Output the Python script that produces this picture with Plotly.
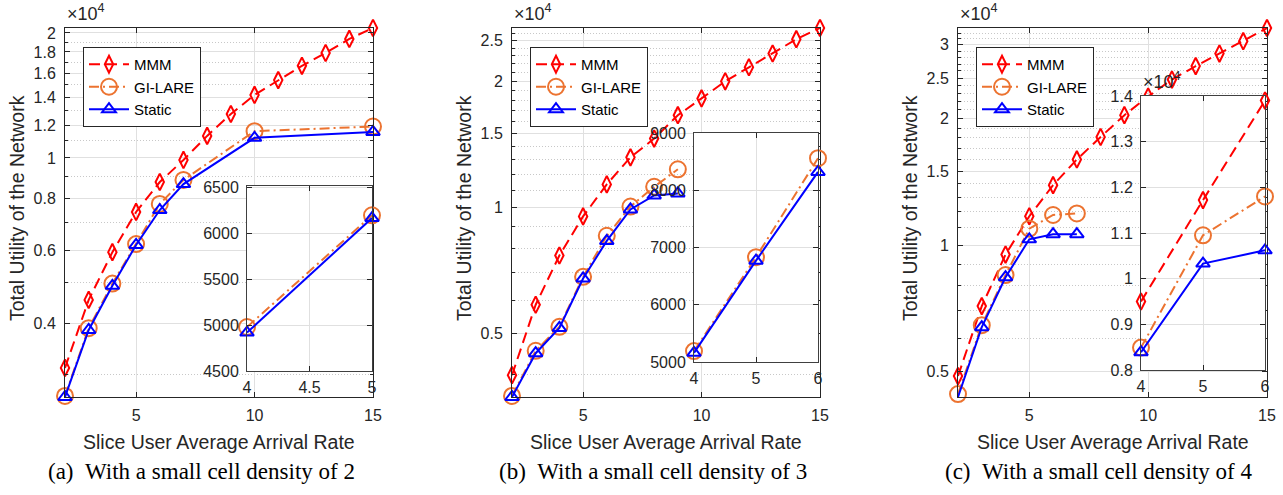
import math
import plotly.graph_objects as go

# ---------------- data ----------------
x_mmm = [2, 3, 4, 5, 6, 7, 8, 9, 10, 11, 12, 13, 14, 15]

# (a) small cell density 2
xa_pts = [2, 3, 4, 5, 6, 7, 10, 15]
a_mmm = [3120, 4550, 5930, 7410, 8750, 9890, 11300, 12760, 14180, 15400, 16670, 17900, 19350, 20560]
a_gi = [2670, 3890, 4980, 6200, 7750, 8850, 11600, 11900]
a_st = [2655, 3850, 4920, 6170, 7490, 8650, 11180, 11550]

# (b) small cell density 3
xb_pts = [2, 3, 4, 5, 6, 7, 8, 9]
b_mmm = [3980, 5860, 7680, 9520, 11350, 13170, 14600, 16600, 18200, 20000, 21600, 23300, 25200, 26800]
b_gi = [3550, 4550, 5190, 6830, 8560, 10050, 11200, 12330]
b_st = [3530, 4490, 5160, 6770, 8320, 9890, 10680, 10800]

# (c) small cell density 4
xc_pts = [2, 3, 4, 5, 6, 7]
c_mmm = [4880, 7160, 9500, 11720, 13900, 16000, 18100, 20400, 22600, 24800, 26700, 28600, 30600, 32900]
c_gi = [4420, 6450, 8490, 10950, 11800, 11900]
c_st = [4350, 6380, 8390, 10330, 10620, 10620]

series_names = ["MMM", "GI-LARE", "Static"]
captions = ["(a)\u00a0\u00a0With a small cell density of 2",
            "(b)\u00a0\u00a0With a small cell density of 3",
            "(c)\u00a0\u00a0With a small cell density of 4"]

# main y tick labels (x10^4)
a_yticks = [0.4, 0.6, 0.8, 1, 1.2, 1.4, 1.6, 1.8, 2]
b_yticks = [0.5, 1, 1.5, 2, 2.5]
c_yticks = [0.5, 1, 1.5, 2, 2.5, 3]
minor_steps = [0.3, 0.4, 0.5, 0.6, 0.7, 0.8, 0.9, 1.0, 1.1, 1.2, 1.3, 1.4, 1.5, 1.6,
               1.7, 1.8, 1.9, 2.0, 2.1, 2.2, 2.3, 2.4, 2.5, 2.6, 2.7, 2.8, 2.9, 3.0, 3.1, 3.2]
main_xticks = [5, 10, 15]

# insets
ins_a_x = [4, 4.5, 5]
ins_a_y = [4500, 5000, 5500, 6000, 6500]
ins_b_x = [4, 5, 6]
ins_b_y = [5000, 6000, 7000, 8000, 9000]
ins_c_x = [4, 5, 6]
ins_c_y = [8000, 9000, 10000, 11000, 12000, 13000, 14000]

# ---------------- style ----------------
W, H = 1283, 495
AX = "#262626"
GRID = "#e0e0e0"
MGRID = "#c8c8c8"
RED = "#ff0000"
ORANGE = "#EC7330"
BLUE = "#0000ff"
SANS = "Liberation Sans, Arial, sans-serif"
SERIF = "Liberation Serif, Times New Roman, serif"

styles = {
    "MMM": dict(color=RED, dash="11px,6px", symbol="diamond-tall-open", size=12),
    "GI-LARE": dict(color=ORANGE, dash="10px,4px,2px,4px", symbol="circle-open", size=16),
    "Static": dict(color=BLUE, dash="solid", symbol="triangle-up-open", size=12),
}


def px_x(a, b):
    return [a / W, b / W]


def px_y(top, bottom):
    return [1 - bottom / H, 1 - top / H]


fig = go.Figure()


def add_trace(x, y, name, xref, yref, legend, showlegend):
    s = styles[name]
    fig.add_trace(go.Scatter(
        x=x, y=y, name=name, mode="lines+markers",
        xaxis=xref, yaxis=yref, legend=legend, showlegend=showlegend,
        cliponaxis=False,
        line=dict(color=s["color"], width=2, dash=s["dash"]),
        marker=dict(symbol=s["symbol"], size=s["size"], color=s["color"],
                    line=dict(color=s["color"], width=2)),
    ))


def within(x, y, lo, hi):
    xs = [a for a in x if lo <= a <= hi]
    ys = [b for a, b in zip(x, y) if lo <= a <= hi]
    return xs, ys


panels = [
    (xa_pts, a_mmm, a_gi, a_st, a_yticks),
    (xb_pts, b_mmm, b_gi, b_st, b_yticks),
    (xc_pts, c_mmm, c_gi, c_st, c_yticks),
]
main_px = [(65, 373), (512, 820), (958, 1267)]
inset_px = [((247, 372), (186, 371)), ((694, 818), (133, 362)), ((1141, 1265), (96, 370))]
inset_ticks = [(ins_a_x, ins_a_y), (ins_b_x, ins_b_y), (ins_c_x, ins_c_y)]
inset_yr = [[4500, 6520], [5000, 9000], [8000, 14000]]
inset_series = [["GI-LARE", "Static"], ["GI-LARE", "Static"], ["MMM", "GI-LARE", "Static"]]
legend_ids = ["legend", "legend2", "legend3"]

layout = dict(
    width=W, height=H, margin=dict(l=0, r=0, t=0, b=0, pad=0, autoexpand=False),
    paper_bgcolor="white", plot_bgcolor="white",
    font=dict(family=SANS, size=16, color=AX),
    annotations=[],
)

tickfont = dict(family=SANS, size=16, color=AX)

for i, (xp, mmm, gi, st, yt) in enumerate(panels):
    n = i + 1
    sfx = "" if n == 1 else str(n)
    xref, yref = "x" + sfx, "y" + sfx
    leg = legend_ids[i]
    data = {"MMM": (x_mmm, mmm), "GI-LARE": (xp, gi), "Static": (xp, st)}
    for nm in series_names:
        add_trace(data[nm][0], data[nm][1], nm, xref, yref, leg, True)

    allv = mmm + gi + st
    lo, hi = min(allv), max(allv)
    (x0, x1) = main_px[i]
    layout["xaxis" + sfx] = dict(
        domain=px_x(x0, x1), anchor=yref, range=[2, 15],
        tickmode="array", tickvals=main_xticks, ticks="inside", ticklen=5,
        tickcolor=AX, showline=True, linecolor=AX, linewidth=1, mirror="ticks",
        showgrid=True, gridcolor=GRID, gridwidth=1, zeroline=False,
        tickfont=tickfont, ticklabelstandoff=4, automargin=False,
    )
    minor_vals = [m * 1e4 for m in minor_steps if m not in yt and lo <= m * 1e4 <= hi]
    layout["yaxis" + sfx] = dict(
        domain=px_y(28, 397), anchor=xref, type="log",
        range=[math.log10(lo), math.log10(hi)],
        tickmode="array", tickvals=[v * 1e4 for v in yt], ticktext=[f"{v:g}" for v in yt],
        ticks="inside", ticklen=5, tickcolor=AX,
        showline=True, linecolor=AX, linewidth=1, mirror="ticks",
        showgrid=True, gridcolor=GRID, gridwidth=1, zeroline=False,
        tickfont=tickfont, ticklabelstandoff=5, automargin=False,
        minor=dict(tickmode="array", tickvals=minor_vals, ticks="inside", ticklen=3,
                   tickcolor=AX, showgrid=True, gridcolor=MGRID, griddash="1px,2px", gridwidth=1),
    )
    # legend
    layout[leg] = dict(
        x=(x0 + 18) / W, y=1 - 47 / H, xanchor="left", yanchor="top",
        bgcolor="white", bordercolor=AX, borderwidth=1,
        font=dict(family=SANS, size=15, color="black"),
        itemwidth=40, tracegroupgap=0,
    )

    # inset
    m = i + 4
    ixref, iyref = "x" + str(m), "y" + str(m)
    (ix0, ix1), (iy0, iy1) = inset_px[i]
    itx, ity = inset_ticks[i]
    for nm in inset_series[i]:
        xs, ys = within(data[nm][0], data[nm][1], itx[0], itx[-1])
        add_trace(xs, ys, nm, ixref, iyref, leg, False)
    layout["xaxis" + str(m)] = dict(
        domain=px_x(ix0, ix1), anchor=iyref, range=[itx[0], itx[-1]],
        tickmode="array", tickvals=itx, ticks="inside", ticklen=5, tickcolor=AX,
        showline=True, linecolor="#404040", linewidth=1, mirror="ticks",
        showgrid=True, gridcolor=GRID, zeroline=False, tickfont=tickfont,
        ticklabelstandoff=2, automargin=False,
    )
    if i == 2:
        ity_text = [f"{v / 1e4:g}" for v in ity]
    else:
        ity_text = [f"{v:g}" for v in ity]
    layout["yaxis" + str(m)] = dict(
        domain=px_y(iy0, iy1), anchor=ixref, range=inset_yr[i],
        tickmode="array", tickvals=ity, ticktext=ity_text,
        ticks="inside", ticklen=5, tickcolor=AX,
        showline=True, linecolor="#404040", linewidth=1, mirror="ticks",
        showgrid=True, gridcolor=GRID, zeroline=False, tickfont=tickfont,
        ticklabelstandoff=4, automargin=False,
    )

    cx = (x0 + x1) / 2
    # x10^4 label
    layout["annotations"].append(dict(
        x=x0 / W, y=1 - 26 / H, xref="paper", yref="paper", xanchor="left", yanchor="bottom",
        text="×10<sup>4</sup>", showarrow=False, font=dict(family=SANS, size=18, color=AX)))
    # x title
    layout["annotations"].append(dict(
        x=cx / W, y=1 - 442 / H, xref="paper", yref="paper", xanchor="center", yanchor="middle",
        text="Slice User Average Arrival Rate", showarrow=False,
        font=dict(family=SANS, size=19.5, color=AX)))
    # y title
    layout["annotations"].append(dict(
        x=(x0 - 48) / W, y=1 - 208 / H, xref="paper", yref="paper", xanchor="center", yanchor="middle",
        text="Total Utility of the Network", textangle=-90, showarrow=False,
        font=dict(family=SANS, size=19.5, color=AX)))
    # caption
    cap_x = [201, 653, 1098][i]
    layout["annotations"].append(dict(
        x=cap_x / W, y=1 - 471 / H, xref="paper", yref="paper", xanchor="center", yanchor="middle",
        text=captions[i], showarrow=False,
        font=dict(family=SERIF, size=23, color="black")))

# inset (c) x10^4 label
layout["annotations"].append(dict(
    x=1141 / W, y=1 - 94 / H, xref="paper", yref="paper", xanchor="left", yanchor="bottom",
    text="×10<sup>4</sup>", showarrow=False, font=dict(family=SANS, size=18, color=AX)))

fig.update_layout(**layout)
fig.write_html(
    "out.html",
    config={"displayModeBar": False},
    post_script="document.body.style.margin='0';document.body.style.padding='0';",
)
